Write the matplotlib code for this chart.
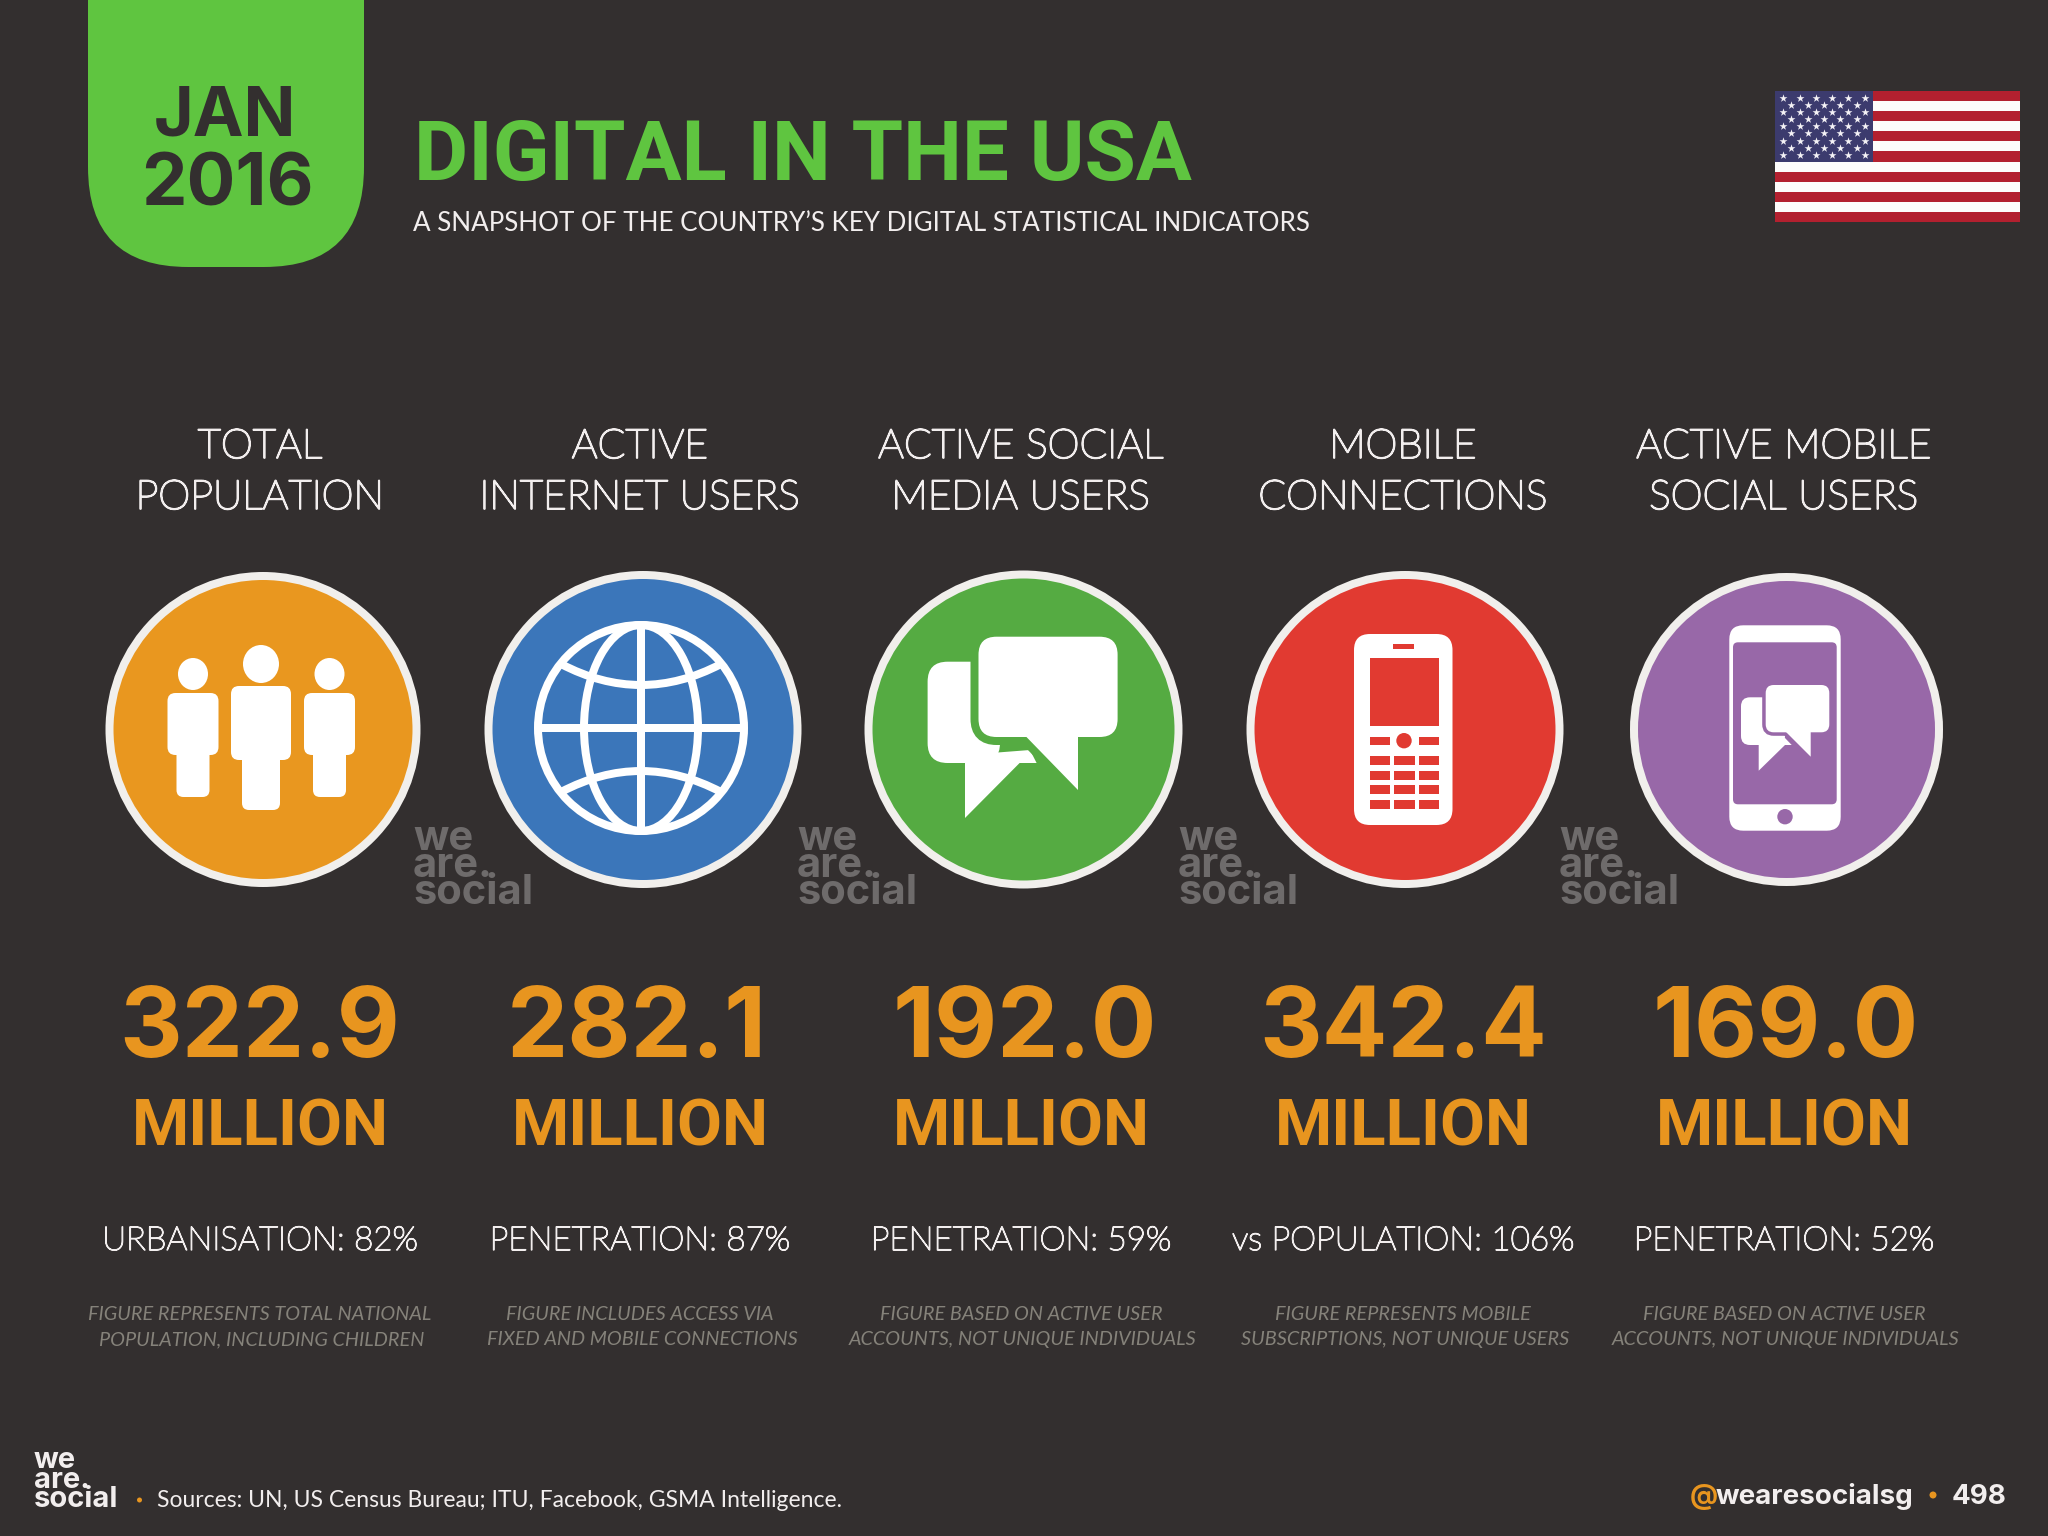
#!/usr/bin/python

import numpy as np
import matplotlib
matplotlib.use("Agg")
import matplotlib.pyplot as plt
import matplotlib.patheffects as pe
from matplotlib.patches import Circle, Ellipse, FancyBboxPatch, Polygon, Rectangle, PathPatch
from matplotlib.path import Path

HEADERS = [("TOTAL", "POPULATION"), ("ACTIVE", "INTERNET USERS"),
           ("ACTIVE SOCIAL", "MEDIA USERS"), ("MOBILE", "CONNECTIONS"),
           ("ACTIVE MOBILE", "SOCIAL USERS")]
VALUES = [322.9, 282.1, 192.0, 342.4, 169.0]
UNIT = "MILLION"
STATS = ["URBANISATION: 82%", "PENETRATION: 87%", "PENETRATION: 59%",
         "vs POPULATION: 106%", "PENETRATION: 52%"]
NOTES = [("FIGURE REPRESENTS TOTAL NATIONAL", "POPULATION, INCLUDING CHILDREN"),
         ("FIGURE INCLUDES ACCESS VIA", "FIXED AND MOBILE CONNECTIONS"),
         ("FIGURE BASED ON ACTIVE USER", "ACCOUNTS, NOT UNIQUE INDIVIDUALS"),
         ("FIGURE REPRESENTS MOBILE", "SUBSCRIPTIONS, NOT UNIQUE USERS"),
         ("FIGURE BASED ON ACTIVE USER", "ACCOUNTS, NOT UNIQUE INDIVIDUALS")]
COLUMN_X = [260, 640, 1021, 1403, 1784]
VALUE_X = [260, 637, 1025, 1403, 1786]
CIRCLE_X = [263, 643, 1023.5, 1405, 1786.5]
CIRCLE_R = [157.5, 158.5, 159, 158.5, 156.5]
CIRCLE_COLORS = ["#e9971f", "#3b76ba", "#55ab42", "#e13a31", "#9868a8"]
WATERMARK_X = [413, 797, 1178, 1559]

BG = "#332f2f"
GREEN = "#5fc540"
ORANGE = "#e8951f"
RING = "#f1efec"
WHITE = "#ffffff"
LIGHT = "#f2eeee"
NOTE_GREY = "#85827a"
MARK_GREY = "#6e6b6b"
PX = 0.72  # points per pixel at dpi 100

HEAVY = "Inter"
BOLD = "Roboto"
THIN = "Lato"


def put(ax, x, y, s, size, color=LIGHT, family=THIN, weight="normal", ha="center", style="normal"):
    return ax.text(x, y, s, fontsize=size, color=color, family=family, weight=weight,
                   ha=ha, va="baseline", style=style)


def put_thin(ax, x, y, s, size, stroke):
    # the lightest Lato is too faint on its own, thicken it a bit
    t = put(ax, x, y, s, size, LIGHT, THIN, "light")
    t.set_path_effects([pe.withStroke(linewidth=stroke, foreground=LIGHT)])


def rrect(ax, x0, y0, x1, y1, r, color, edge=None, lw=0, z=3):
    ax.add_patch(FancyBboxPatch((x0, y0), x1 - x0, y1 - y0,
                                boxstyle="round,pad=0,rounding_size=%g" % r,
                                fc=color, ec=edge if edge else "none", lw=lw, zorder=z))


def bubble(ax, x0, y0, x1, y1, r, tail, color, gap=None, gapw=0, z=4):
    if gap:
        rrect(ax, x0, y0, x1, y1, r, color, gap, gapw * PX, z)
        ax.add_patch(Polygon(tail, fc=color, ec=gap, lw=gapw * PX, joinstyle="miter", zorder=z))
    rrect(ax, x0, y0, x1, y1, r, color, z=z + 0.1)
    ax.add_patch(Polygon(tail, fc=color, ec="none", zorder=z + 0.1))


def people_icon(ax):
    for (cx, cy, r, bw, btop, bbot, lw_, lbot) in [(193, 674, 15, 25.5, 693, 755, 16.5, 797),
                                                   (329.5, 674, 15, 25.5, 693, 755, 16.5, 797),
                                                   (261, 664, 18, 30, 686, 760, 19, 810)]:
        ax.add_patch(Ellipse((cx, cy), r * 2, r * 2 + 2, fc=WHITE, ec="none", zorder=3))
        rrect(ax, cx - bw, btop, cx + bw, bbot, 8, WHITE)
        rrect(ax, cx - lw_, bbot - 20, cx + lw_, lbot, 7, WHITE)


def globe_icon(ax):
    cx, cy = 641, 728
    w = 8 * PX
    for rx in (103, 57):
        ax.add_patch(Ellipse((cx, cy), rx * 2, 206, fc="none", ec=WHITE, lw=w, zorder=3))
    ax.plot([cx, cx], [cy - 103, cy + 103], color=WHITE, lw=w, zorder=3, solid_capstyle="butt")
    ax.plot([cx - 103, cx + 103], [cy, cy], color=WHITE, lw=w, zorder=3, solid_capstyle="butt")
    for sign in (-1, 1):
        y_end = cy + sign * 64
        y_ctl = cy + sign * 22
        arc = Path([(cx - 80, y_end), (cx, y_ctl), (cx + 80, y_end)],
                   [Path.MOVETO, Path.CURVE3, Path.CURVE3])
        ax.add_patch(PathPatch(arc, fc="none", ec=WHITE, lw=w, zorder=3))


def chat_icon(ax, color):
    rrect(ax, 927.6, 661.7, 1000, 763, 20, WHITE)
    ax.add_patch(Polygon([(965, 755), (965, 818), (1019.6, 763), (1036.6, 763), (1030, 750)],
                         fc=WHITE, ec="none", zorder=3))
    bubble(ax, 978.5, 636.7, 1117.6, 737, 18,
           [(1024.5, 735), (1078, 790), (1078, 735)], WHITE, color, 16)


def phone_icon(ax, color):
    rrect(ax, 1354, 634, 1452.5, 825, 16, WHITE)
    ax.add_patch(Rectangle((1393, 644), 21, 4.5, fc=color, zorder=4))
    ax.add_patch(Rectangle((1369.6, 657.7), 69.4, 68.3, fc=color, zorder=4))
    ax.add_patch(Rectangle((1369.6, 737), 20, 7.5, fc=color, zorder=4))
    ax.add_patch(Rectangle((1419, 737), 20.4, 7.5, fc=color, zorder=4))
    ax.add_patch(Circle((1404, 740.7), 7.7, fc=color, zorder=4))
    for top in (755.7, 770.7, 785, 800):
        for (left, wid) in ((1369.6, 20), (1394, 20.7), (1419, 20.4)):
            ax.add_patch(Rectangle((left, top), wid, 9, fc=color, zorder=4))


def smart_icon(ax, color):
    rrect(ax, 1729.3, 625.3, 1840.7, 830.7, 14, WHITE)
    rrect(ax, 1733, 642.3, 1836.7, 804.3, 5, color, z=4)
    ax.add_patch(Circle((1785, 816.7), 7.7, fc=color, zorder=4))
    rrect(ax, 1741, 697.3, 1785, 745, 9, WHITE, z=5)
    ax.add_patch(Polygon([(1758.7, 740), (1758.7, 770.7), (1785, 745), (1791.7, 745), (1785, 738)],
                         fc=WHITE, ec="none", zorder=5))
    bubble(ax, 1765.7, 685, 1829.3, 732.3, 8,
           [(1785, 731), (1810.7, 756.7), (1810.7, 731)], WHITE, color, 7, z=6)


def flag(ax):
    left, right, top, bot = 1775, 2020, 91, 222
    h = (bot - top) / 13.0
    ax.add_patch(Rectangle((left, top), right - left, bot - top, fc="#fdfcfb", lw=0, zorder=2))
    for i in range(0, 13, 2):
        ax.add_patch(Rectangle((left, top + i * h), right - left, h, fc="#b3202f", lw=0, zorder=2.1))
    ax.add_patch(Rectangle((left, top), 98, 7 * h, fc="#3c3b6e", lw=0, zorder=2.2))
    sx = np.linspace(1783.3, 1864.7, 6)
    sy = np.linspace(98, 154.7, 9)
    for i, y in enumerate(sy):
        xs = sx if i % 2 == 0 else (sx[:-1] + sx[1:]) / 2
        ax.scatter(xs, [y] * len(xs), marker="*", s=36, color="#f4f2f6", lw=0, zorder=2.3)


def logo(ax, x, y, size, color):
    ax.text(x, y, "we\nare.\nsocial", fontsize=size, color=color, family=HEAVY, weight="bold",
            ha="left", va="baseline", linespacing=0.64)


def main():
    fig = plt.figure(figsize=(20.48, 15.36), dpi=100, facecolor=BG)
    ax = fig.add_axes([0, 0, 1, 1])
    ax.set_xlim(0, 2048)
    ax.set_ylim(1536, 0)
    ax.axis("off")

    # header
    rrect(ax, 88, -120, 364, 267, 100, GREEN, z=1)
    put(ax, 225, 136, "JAN", 49, BG, HEAVY, "bold")
    put(ax, 227, 205, "2016", 52, BG, HEAVY, "bold")
    put(ax, 414, 180, "DIGITAL IN THE USA", 60, GREEN, BOLD, "bold", "left")
    put(ax, 413, 231, "A SNAPSHOT OF THE COUNTRY\u2019S KEY DIGITAL STATISTICAL INDICATORS", 18.7, family=THIN, ha="left")
    flag(ax)

    # columns
    for i in range(5):
        cx = COLUMN_X[i]
        put_thin(ax, cx, 458, HEADERS[i][0], 29.3, 1.3)
        put_thin(ax, cx, 509, HEADERS[i][1], 29.3, 1.3)
        put(ax, VALUE_X[i], 1057, "%.1f" % VALUES[i], 70, ORANGE, HEAVY, "bold")
        put(ax, cx, 1146, UNIT, 47, ORANGE, BOLD, "bold")
        put_thin(ax, cx, 1250, STATS[i], 23.9, 1.0)
        put(ax, cx, 1320, NOTES[i][0], 14.3, NOTE_GREY, THIN, style="italic")
        put(ax, cx + 2, 1345, NOTES[i][1], 14.3, NOTE_GREY, THIN, style="italic")

        ax.add_patch(Circle((CIRCLE_X[i], 729.5), CIRCLE_R[i] - 4, fc=CIRCLE_COLORS[i],
                            ec=RING, lw=8 * PX, zorder=2))

    people_icon(ax)
    globe_icon(ax)
    chat_icon(ax, CIRCLE_COLORS[2])
    phone_icon(ax, CIRCLE_COLORS[3])
    smart_icon(ax, CIRCLE_COLORS[4])

    for x in WATERMARK_X:
        logo(ax, x, 904, 30, MARK_GREY)

    # footer
    logo(ax, 34, 1507, 21, LIGHT)
    ax.add_patch(Circle((139.5, 1500), 2.5, fc=ORANGE, ec="none"))
    put(ax, 157, 1507, "Sources: UN, US Census Bureau; ITU, Facebook, GSMA Intelligence.", 16.5, family=THIN, ha="left")
    put(ax, 1690, 1504, "@", 20, ORANGE, HEAVY, "bold", "left")
    put(ax, 1716, 1504, "wearesocialsg", 20, LIGHT, HEAVY, "bold", "left")
    ax.add_patch(Circle((1933, 1495), 3.5, fc=ORANGE, ec="none"))
    put(ax, 1952, 1504, "498", 20, LIGHT, HEAVY, "bold", "left")

    fig.savefig("out.png", dpi=100, facecolor=BG)


if __name__ == "__main__":
    main()
